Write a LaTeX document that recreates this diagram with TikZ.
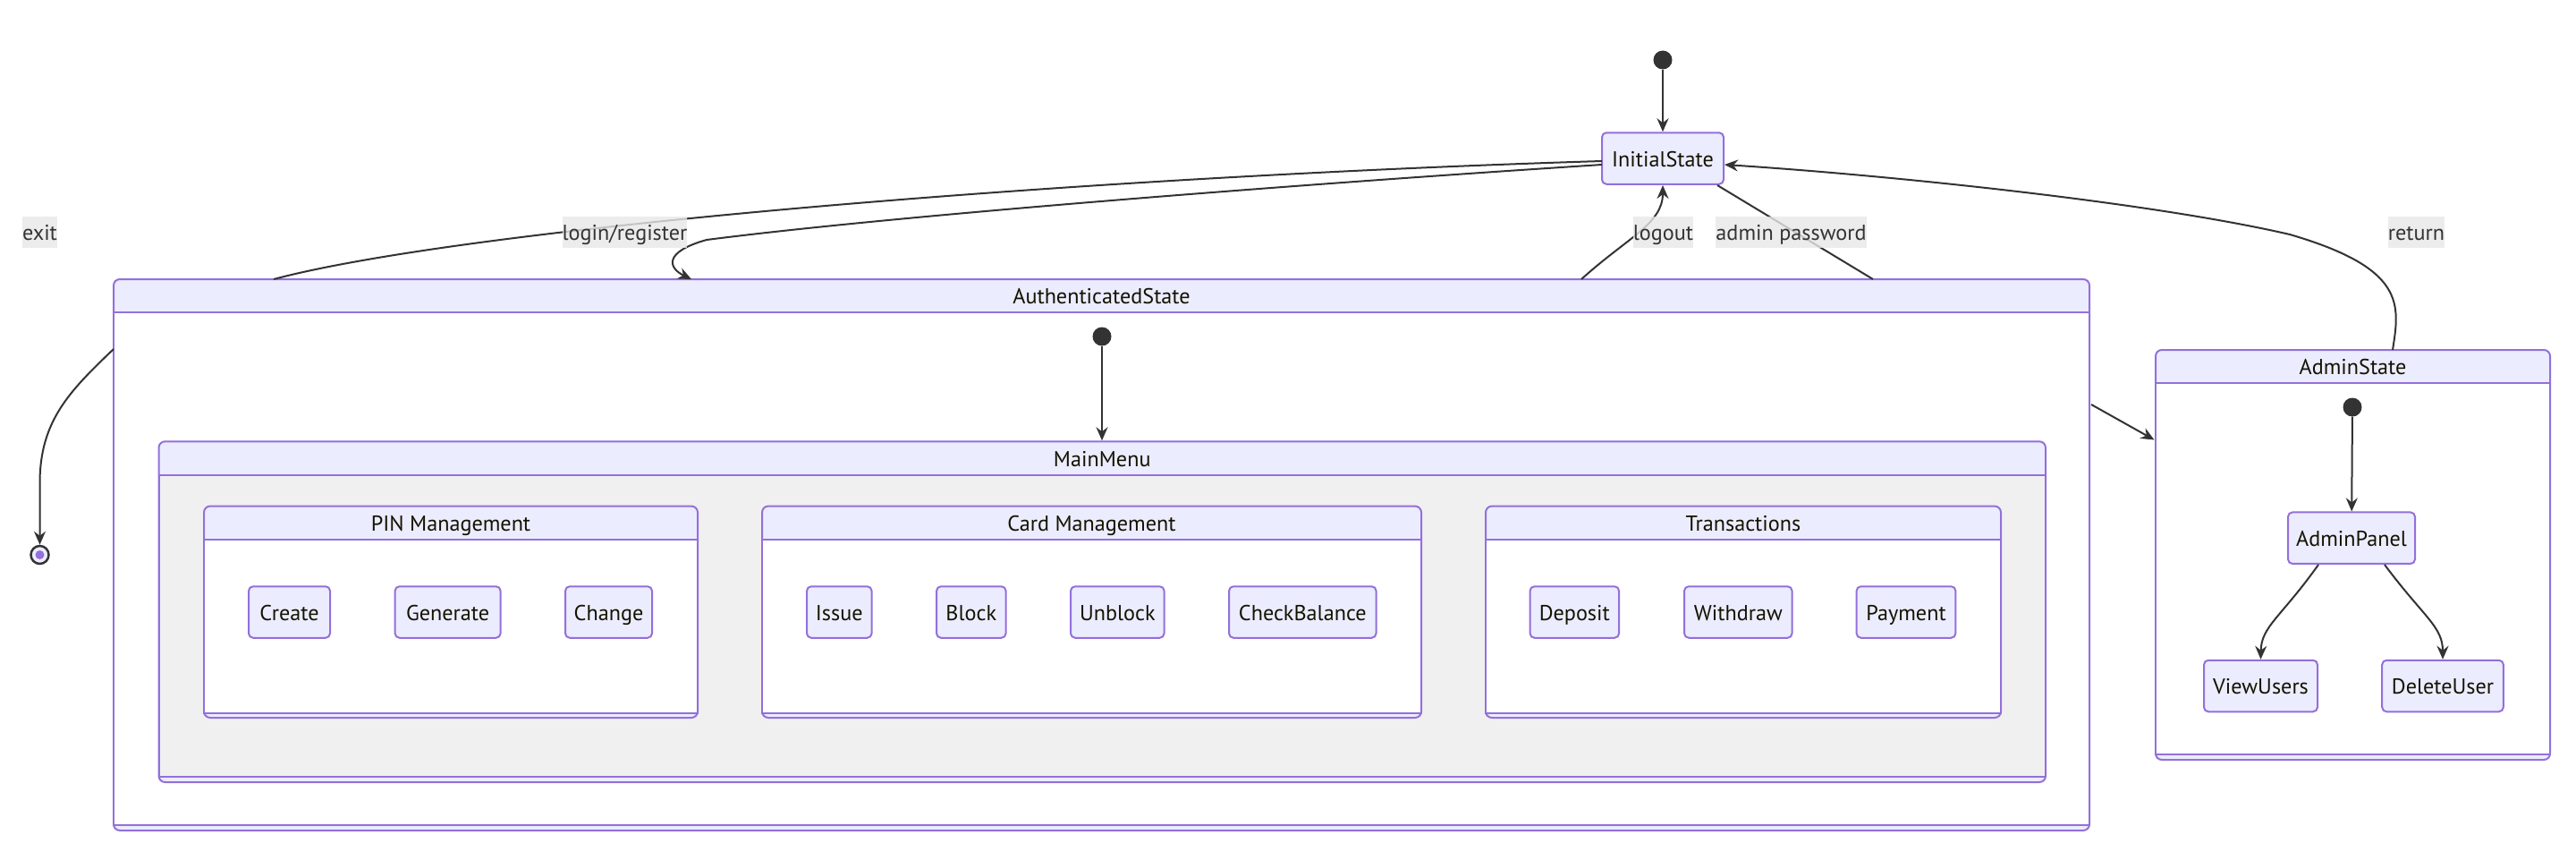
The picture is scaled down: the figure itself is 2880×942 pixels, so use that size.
\documentclass[tikz,border=0pt]{standalone}
\usepackage{fontspec}
\setmainfont{PT Sans}
\usetikzlibrary{arrows.meta}
\definecolor{nodefill}{HTML}{ECECFF}
\definecolor{nodeline}{HTML}{9370DB}
\definecolor{edgec}{HTML}{333333}
\definecolor{lblbg}{HTML}{E8E8E8}
\definecolor{menubg}{HTML}{F0F0F0}
\definecolor{txt}{HTML}{131300}
\begin{document}
\begin{tikzpicture}[x=1pt,y=-1pt,
  font=\fontsize{24.2}{28}\selectfont,
  stnode/.style={draw=nodeline, fill=nodefill, line width=2pt, rounded corners=5pt,
    minimum height=57.5pt, inner sep=0pt, text=txt, text height=18pt, text depth=0pt},
  cluster/.style={draw=nodeline, fill=nodefill, line width=2pt, rounded corners=7pt, inner sep=0pt},
  body/.style={draw=nodeline, line width=2pt},
  ctitle/.style={text=txt, inner sep=0pt, anchor=base},
  startdot/.style={circle, fill=edgec, minimum size=21pt, inner sep=0pt},
  edge/.style={draw=edgec, line width=2pt, -{Stealth[length=15pt, width=13pt, inset=5pt]}},
  plainedge/.style={draw=edgec, line width=2pt},
  lbl/.style={fill=lblbg, fill opacity=0.8, text opacity=1, text=edgec, inner xsep=0pt,
    inner ysep=0pt, minimum height=35pt, text height=18pt, text depth=0pt}
]
\useasboundingbox (0,0) rectangle (2880,942);
\fill[white] (0,0) rectangle (2880,942);

% ---------- clusters ----------
\node[cluster, minimum width=2209pt, minimum height=616pt] (auth) at (1231.5,620) {};
\draw[body, fill=white] (127,349) rectangle (2336,922);
\node[ctitle] (authT) at (1231.5,339.5) {AuthenticatedState};

\node[cluster, minimum width=2109.5pt, minimum height=380.7pt] (menu) at (1232.25,683.65) {};
\draw[body, fill=menubg] (177.5,531.4) rectangle (2287,868);
\node[ctitle] (menuT) at (1232.25,521) {MainMenu};

\node[cluster, minimum width=552pt, minimum height=236.4pt] (pin) at (504,683.8) {};
\draw[body, fill=white] (228,603) rectangle (780,796.5);
\node[ctitle] (pinT) at (504,593) {PIN Management};

\node[cluster, minimum width=737pt, minimum height=236.4pt] (card) at (1220.5,683.8) {};
\draw[body, fill=white] (852,603) rectangle (1589,796.5);
\node[ctitle] (cardT) at (1220.5,593) {Card Management};

\node[cluster, minimum width=576pt, minimum height=236.4pt] (trans) at (1949,683.8) {};
\draw[body, fill=white] (1661,603) rectangle (2237,796.5);
\node[ctitle] (transT) at (1949,593) {Transactions};

\node[cluster, minimum width=441pt, minimum height=458pt] (admin) at (2630.5,620) {};
\draw[body, fill=white] (2410,428.4) rectangle (2851,843.4);
\node[ctitle] (adminT) at (2630.5,418.6) {AdminState};

% ---------- states ----------
\node[startdot] (s0) at (1859,67) {};
\node[stnode, minimum width=136pt] (init) at (1859,177) {InitialState};

\node[startdot] (s1) at (1232,376) {};
\node[startdot] (s2) at (2630,455) {};

\node[stnode, minimum width=91pt] (create) at (323.5,684) {Create};
\node[stnode, minimum width=118pt] (generate) at (500.6,684) {Generate};
\node[stnode, minimum width=97pt] (change) at (680.5,684) {Change};

\node[stnode, minimum width=72.5pt] (issue) at (938.3,684) {Issue};
\node[stnode, minimum width=77.5pt] (block) at (1085.8,684) {Block};
\node[stnode, minimum width=104.5pt] (unblock) at (1249.3,684) {Unblock};
\node[stnode, minimum width=164.5pt] (check) at (1456.3,684) {CheckBalance};

\node[stnode, minimum width=99.5pt] (deposit) at (1760.3,684) {Deposit};
\node[stnode, minimum width=120.5pt] (withdraw) at (1943.3,684) {Withdraw};
\node[stnode, minimum width=110.8pt] (payment) at (2131,684) {Payment};

\node[stnode, minimum width=142pt] (apanel) at (2629,601.2) {AdminPanel};
\node[stnode, minimum width=127pt] (vusers) at (2527.5,766.5) {ViewUsers};
\node[stnode, minimum width=135.6pt] (duser) at (2731,766.5) {DeleteUser};

\node[circle, draw=edgec, line width=2.5pt, fill=nodefill, minimum size=20pt, inner sep=0pt] (endst) at (44.5,620) {};
\node[circle, fill=nodeline, minimum size=10pt, inner sep=0pt] (enddot) at (44.5,620) {};

% ---------- border points ----------
\coordinate (iW1) at (1791,180);
\coordinate (iW2) at (1791,184);
\coordinate (iSE) at (1920,207);
\coordinate (iS) at (1859,207);
\coordinate (iE) at (1928,184);
\coordinate (aTop1) at (306,312);
\coordinate (aTop2) at (773,312);
\coordinate (aTop3) at (1768,312);
\coordinate (aTop4) at (2094,312);
\coordinate (aLeft) at (127,390);
\coordinate (aRight) at (2338,452);
\coordinate (adL) at (2408.5,491.5);
\coordinate (adTop) at (2675,391);
\coordinate (apL) at (2592,631);
\coordinate (apR) at (2666,631);

% ---------- edges ----------
\draw[edge] (s0) -- (init);
\draw[edge] (s1) -- (menu.north -| s1);
\draw[edge] (s2) -- (apanel);

% login/register
\draw[edge] (iW2) .. controls (1450,206) and (1000,241) .. (790,268)
  .. controls (740,282) and (748,300) .. (aTop2);
% exit
\draw[plainedge] (iW1) .. controls (1200,198) and (520,255) .. (aTop1);
\draw[edge] (aLeft) .. controls (78,437) and (44.5,470) .. (44.5,540) -- (endst);
% logout
\draw[edge] (aTop3) .. controls (1820,265) and (1859,250) .. (iS);
% admin password
\draw[plainedge] (iSE) -- (aTop4);
\draw[edge] (aRight) -- (adL);
% return
\draw[edge] (adTop) .. controls (2683,340) and (2690,300) .. (2560,262)
  .. controls (2400,225) and (2100,195) .. (iE);
% admin panel
\draw[edge] (apL) .. controls (2550,690) and (2528,700) .. (vusers.north);
\draw[edge] (apR) .. controls (2710,690) and (2731,700) .. (duser.north);

% ---------- labels ----------
\node[lbl] (lexit) at (44.5,259.5) {exit};
\node[lbl] (llogin) at (698.5,259.5) {login/register};
\node[lbl] (llogout) at (1859.5,259.5) {logout};
\node[lbl] (ladmin) at (2002.5,259.5) {admin password};
\node[lbl] (lreturn) at (2701.5,259.5) {return};
\end{tikzpicture}
\end{document}
